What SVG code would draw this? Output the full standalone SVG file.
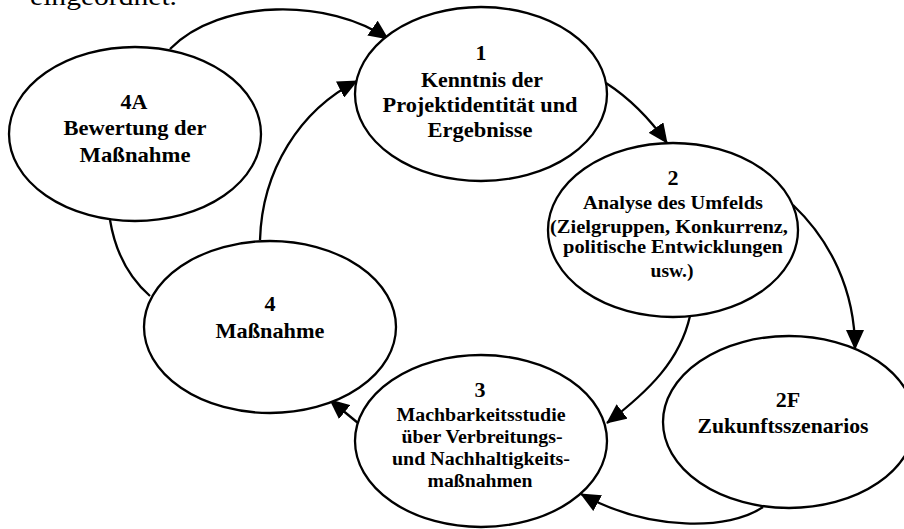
<svg xmlns="http://www.w3.org/2000/svg" width="904" height="529" viewBox="0 0 904 529">
<defs>
<marker id="ah" viewBox="0 0 20 18" markerUnits="userSpaceOnUse" markerWidth="20" markerHeight="18" refX="19" refY="9" orient="auto">
<path d="M0,0 L20,9 L0,18 z" fill="#000"/>
</marker>
<style>
.n ellipse{fill:#fff;stroke:#000;stroke-width:2.3}
.n text{font-family:"Liberation Serif","Times New Roman",serif;font-weight:bold;fill:#000;text-anchor:middle}
.big{font-size:21px}
.sm{font-size:18px}
.num{font-size:22px}
#edges path{fill:none;stroke:#000;stroke-width:2.3}
.arr{marker-end:url(#ah)}
.hdr{font-family:"Liberation Serif","Times New Roman",serif;font-size:25px;fill:#000}
</style>
</defs>
<rect width="904" height="529" fill="#fff"/>
<text class="hdr" x="30" y="5" textLength="147" lengthAdjust="spacingAndGlyphs">eingeordnet.</text>
<g id="edges">
<path class="arr" d="M170,49 C220,-2 330,-2 388,39"/>
<path class="arr" d="M260,240 C262,170 300,110 357,81"/>
<path d="M110,220 Q118,268 150,296"/>
<path class="arr" d="M606,83 Q640,105 667,143"/>
<path class="arr" d="M793,205 C830,240 855,290 855,349"/>
<path class="arr" d="M690,316 C680,360 650,390 607,423"/>
<path class="arr" d="M763,507 C730,530 650,532 581,494"/>
<path class="arr" d="M358,423 L330,400"/>
</g>
<g id="node-4A" class="n">
<ellipse cx="135" cy="134" rx="126" ry="87"/>
<text class="num" x="134" y="109">4A</text>
<text class="big" x="135" y="135" textLength="143" lengthAdjust="spacingAndGlyphs">Bewertung der</text>
<text class="big" x="135" y="162" textLength="111" lengthAdjust="spacingAndGlyphs">Maßnahme</text>
</g>
<g id="node-1" class="n">
<ellipse cx="481" cy="94" rx="126" ry="87"/>
<text class="num" x="481" y="60">1</text>
<text class="big" x="482" y="87" textLength="122" lengthAdjust="spacingAndGlyphs">Kenntnis der</text>
<text class="big" x="480" y="112" textLength="195" lengthAdjust="spacingAndGlyphs">Projektidentität und</text>
<text class="big" x="480" y="137" textLength="105" lengthAdjust="spacingAndGlyphs">Ergebnisse</text>
</g>
<g id="node-2" class="n">
<ellipse cx="673" cy="230" rx="125" ry="87"/>
<text class="num" x="673" y="185">2</text>
<text class="sm" x="673" y="209" textLength="180" lengthAdjust="spacingAndGlyphs">Analyse des Umfelds</text>
<text class="sm" x="669" y="233" textLength="238" lengthAdjust="spacingAndGlyphs">(Zielgruppen, Konkurrenz,</text>
<text class="sm" x="673" y="253" textLength="220" lengthAdjust="spacingAndGlyphs">politische Entwicklungen</text>
<text class="sm" x="672" y="277" textLength="43" lengthAdjust="spacingAndGlyphs">usw.)</text>
</g>
<g id="node-2F" class="n">
<ellipse cx="789" cy="422" rx="126" ry="86"/>
<text class="num" x="788" y="407">2F</text>
<text class="big" x="783" y="433" textLength="171" lengthAdjust="spacingAndGlyphs">Zukunftsszenarios</text>
</g>
<g id="node-4" class="n">
<ellipse cx="270" cy="327" rx="126" ry="86"/>
<text class="num" x="270" y="311">4</text>
<text class="big" x="270" y="338" textLength="109" lengthAdjust="spacingAndGlyphs">Maßnahme</text>
</g>
<g id="node-3" class="n">
<ellipse cx="481" cy="441" rx="126" ry="86"/>
<text class="num" x="480" y="397">3</text>
<text class="sm" x="481" y="421" textLength="169" lengthAdjust="spacingAndGlyphs">Machbarkeitsstudie</text>
<text class="sm" x="482" y="443" textLength="161" lengthAdjust="spacingAndGlyphs">über Verbreitungs-</text>
<text class="sm" x="481" y="465" textLength="178" lengthAdjust="spacingAndGlyphs">und Nachhaltigkeits-</text>
<text class="sm" x="480" y="487" textLength="105" lengthAdjust="spacingAndGlyphs">maßnahmen</text>
</g>
</svg>
